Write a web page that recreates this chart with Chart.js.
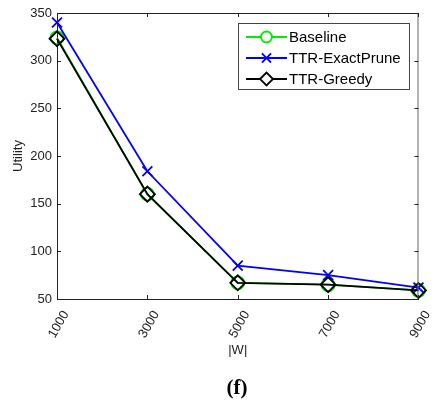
<!DOCTYPE html>
<html>
<head>
<meta charset="utf-8">
<script src="https://cdn.jsdelivr.net/npm/chart.js@4.4.1/dist/chart.umd.min.js"></script>
<style>
  html, body { margin: 0; padding: 0; background: #fff; }
  #wrap { position: relative; width: 441px; height: 411px; }
  #caption {
    position: absolute; left: 0; width: 474px; top: 375px;
    text-align: center; font: bold 21px "Liberation Serif", "Times New Roman", serif; color: #000;
  }
</style>
</head>
<body>
<div id="wrap">
  <canvas id="chart" width="441" height="411"></canvas>
  <div id="caption">(f)</div>
</div>
<script>
// data
const sizes = [1000, 3000, 5000, 7000, 9000];
const baseline = [324, 160, 67, 65, 59];
const exactPrune = [340, 184, 85, 75, 62];
const greedy = [323, 160, 67, 65, 59];
const xTicks = [1000, 3000, 5000, 7000, 9000];
const yTicks = [50, 100, 150, 200, 250, 300, 350];

const textColor = '#222';
const font = { family: '"Liberation Sans", Arial, sans-serif', size: 13 };

const toPoints = (vals) => vals.map((v, i) => ({ x: sizes[i], y: v }));

const series = [
  { label: 'Baseline', data: baseline, color: '#00ee00', style: 'circle', radius: 6.5, order: 3 },
  { label: 'TTR-ExactPrune', data: exactPrune, color: '#0000ff', style: 'crossRot', radius: 7, order: 2 },
  { label: 'TTR-Greedy', data: greedy, color: '#000000', style: 'rectRot', radius: 7.5, order: 1 }
];

// box around the plot + inward ticks, like matlab axes
const boxPlugin = {
  id: 'box',
  afterDraw(chart) {
    const { ctx, chartArea: a, scales } = chart;
    ctx.save();
    ctx.lineWidth = 1;
    ctx.strokeStyle = '#222';
    ctx.beginPath();
    ctx.moveTo(a.left, a.top + 0.5);
    ctx.lineTo(a.right, a.top + 0.5);
    ctx.stroke();
    ctx.strokeStyle = '#666';
    ctx.beginPath();
    ctx.moveTo(a.right - 0.5, a.top);
    ctx.lineTo(a.right - 0.5, a.bottom);
    ctx.stroke();
    ctx.strokeStyle = '#222';
    ctx.beginPath();
    xTicks.forEach(v => {
      const x = Math.round(scales.x.getPixelForValue(v)) + 0.5;
      ctx.moveTo(x, a.bottom); ctx.lineTo(x, a.bottom - 4);
      ctx.moveTo(x, a.top); ctx.lineTo(x, a.top + 4);
    });
    yTicks.forEach(v => {
      const y = Math.round(scales.y.getPixelForValue(v)) + 0.5;
      ctx.moveTo(a.left, y); ctx.lineTo(a.left + 4, y);
      ctx.moveTo(a.right, y); ctx.lineTo(a.right - 4, y);
    });
    ctx.stroke();
    ctx.restore();
  }
};

// legend with line + marker samples
const legendPlugin = {
  id: 'matlabLegend',
  afterDraw(chart) {
    const ctx = chart.ctx;
    const bx = 238, by = 23, bw = 171, bh = 66;
    ctx.save();
    ctx.fillStyle = '#fff';
    ctx.fillRect(bx, by, bw, bh);
    ctx.strokeStyle = '#444';
    ctx.lineWidth = 1;
    ctx.strokeRect(bx + 0.5, by + 0.5, bw, bh);
    ctx.font = '15px "Liberation Sans", Arial, sans-serif';
    ctx.textBaseline = 'middle';
    series.forEach((s, i) => {
      const y = 37 + i * 21;
      ctx.strokeStyle = s.color;
      ctx.lineWidth = 1.8;
      ctx.beginPath();
      ctx.moveTo(246, y);
      ctx.lineTo(287, y);
      ctx.stroke();
      ctx.fillStyle = '#fff';
      Chart.helpers.drawPoint(ctx, { pointStyle: s.style, radius: s.style === 'circle' ? 5.5 : 6.5, borderWidth: 1.8, rotation: 0 }, 266.5, y);
      ctx.fillStyle = '#000';
      ctx.fillText(s.label, 289, y + 1);
    });
    ctx.restore();
  }
};

new Chart(document.getElementById('chart'), {
  type: 'line',
  data: {
    datasets: series.map(s => ({
      label: s.label,
      data: toPoints(s.data),
      borderColor: s.color,
      backgroundColor: 'rgba(0,0,0,0)',
      borderWidth: 1.8,
      pointStyle: s.style,
      pointRadius: s.radius,
      pointBorderWidth: 1.8,
      pointBorderColor: s.color,
      pointBackgroundColor: 'rgba(0,0,0,0)',
      tension: 0,
      clip: false,
      order: s.order
    }))
  },
  options: {
    responsive: false,
    animation: false,
    layout: { padding: { left: 0, top: 13, right: 22, bottom: 53 } },
    plugins: {
      legend: { display: false },
      tooltip: { enabled: false }
    },
    scales: {
      x: {
        type: 'linear',
        min: 1000,
        max: 9000,
        afterBuildTicks: (scale) => { scale.ticks = xTicks.map(v => ({ value: v })); },
        afterFit: (scale) => { scale.height = 59; },
        grid: { display: false, drawTicks: false },
        border: { display: true, color: '#222', width: 1 },
        ticks: {
          color: textColor, font: font, minRotation: 60, maxRotation: 60,
          labelOffset: 9, padding: 9,
          callback: (v) => String(v)
        },
        title: { display: true, text: '|W|', color: textColor, font: font, padding: 0 }
      },
      y: {
        min: 50,
        max: 350,
        afterBuildTicks: (scale) => { scale.ticks = yTicks.map(v => ({ value: v })); },
        afterFit: (scale) => { scale.width = 57; },
        grid: { display: false, drawTicks: false },
        border: { display: true, color: '#222', width: 1 },
        ticks: { color: textColor, font: font, padding: 5, callback: (v) => String(v) },
        title: { display: true, text: 'Utility', color: textColor, font: font, padding: { top: 11, bottom: 0 } }
      }
    }
  },
  plugins: [boxPlugin, legendPlugin]
});
</script>
</body>
</html>
